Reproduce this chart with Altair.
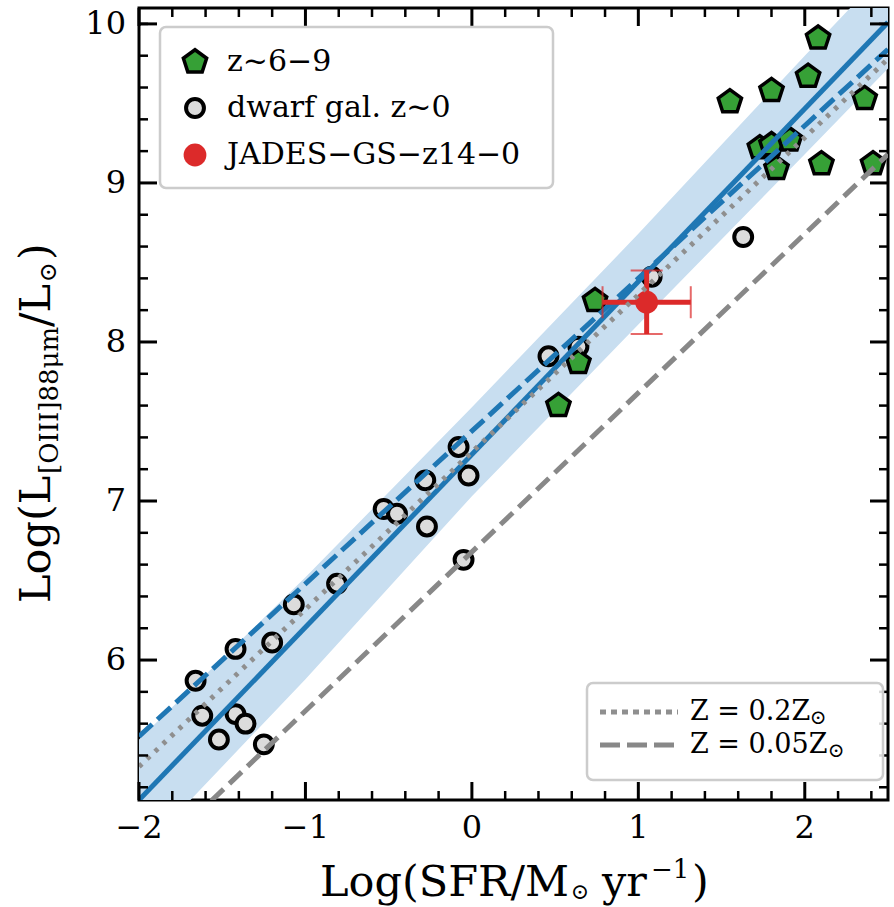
import altair as alt
import pandas as pd

# ---------------- data ----------------
z69_x = [2.08, 2.02, 1.80, 1.55, 2.36, 1.73, 1.80, 1.91, 1.83, 2.10, 2.41, 0.74, 0.64, 0.52]
z69_y = [9.91, 9.67, 9.58, 9.51, 9.53, 9.22, 9.24, 9.27, 9.09, 9.12, 9.12, 8.26, 7.87, 7.60]

dwarf_x = [-1.66, -1.62, -1.52, -1.42, -1.42, -1.36, -1.25, -1.20, -1.07, -0.81,
           -0.53, -0.45, -0.28, -0.27, -0.08, -0.02, -0.05, 0.46, 0.64, 1.08, 1.63]
dwarf_y = [5.87, 5.65, 5.50, 6.07, 5.66, 5.60, 5.47, 6.11, 6.35, 6.48,
           6.95, 6.92, 7.13, 6.84, 7.34, 7.16, 6.63, 7.91, 7.97, 8.41, 8.66]

jades_x = [1.05]
jades_y = [8.25]
jades_x_lo = [0.785]
jades_x_hi = [1.315]
jades_y_lo = [8.05]
jades_y_hi = [8.45]

line_x = [-2.0, 2.5]
fit_y = [5.12, 10.01]        # solid blue relation
obs_y = [5.52, 9.84]         # dashed blue relation
z02_y = [5.33, 9.78]         # Z = 0.2 Zsun (dotted gray)
z005_y = [4.68, 9.18]        # Z = 0.05 Zsun (dashed gray)

band_x = [-2.0, -1.0, 0.0, 1.0, 2.0, 2.5]
band_lo = [4.78, 5.88, 7.03, 8.11, 9.18, 9.72]
band_hi = [5.50, 6.52, 7.59, 8.68, 9.80, 10.35]

x_major = [-2, -1, 0, 1, 2]
x_labels = ["\u22122", "\u22121", "0", "1", "2"]
x_minor = [-1.8, -1.6, -1.4, -1.2, -0.8, -0.6, -0.4, -0.2, 0.2, 0.4, 0.6, 0.8,
           1.2, 1.4, 1.6, 1.8, 2.2, 2.4]
y_major = [6, 7, 8, 9, 10]
y_labels = ["6", "7", "8", "9", "10"]
y_minor = [5.2, 5.4, 5.6, 5.8, 6.2, 6.4, 6.6, 6.8, 7.2, 7.4, 7.6, 7.8, 8.2, 8.4,
           8.6, 8.8, 9.2, 9.4, 9.6, 9.8, 10.0]

# ---------------- styling ----------------
W, H = 749, 792
FONT = "DejaVu Serif"
GREEN = "#36a036"
RED = "#dc2a2a"
BLUE = "#1f77b4"
BAND = "#c8def0"
GRAY = "#888888"
PENTAGON = "M0,-1L0.951,-0.309L0.588,0.809L-0.588,0.809L-0.951,-0.309Z"

xs = alt.Scale(domain=[-2, 2.5], nice=False, zero=False)
ys = alt.Scale(domain=[5.12, 10.1], nice=False, zero=False)


def X(f):
    return alt.X(f, type="quantitative", scale=xs, axis=None)


def Y(f):
    return alt.Y(f, type="quantitative", scale=ys, axis=None)


df_band = pd.DataFrame({"x": band_x, "lo": band_lo, "hi": band_hi})
band = alt.Chart(df_band).mark_area(color=BAND, opacity=1, clip=True).encode(
    x=X("x"), y=Y("lo"), y2="hi:Q")

df_dwarf = pd.DataFrame({"x": dwarf_x, "y": dwarf_y})
dwarf = alt.Chart(df_dwarf).mark_point(
    shape="circle", filled=True, fill="#dcdcdc", stroke="black", strokeWidth=4,
    size=320, opacity=1, clip=True
).encode(x=X("x"), y=Y("y"))

df_z = pd.DataFrame({"x": z69_x, "y": z69_y})
green = alt.Chart(df_z).mark_point(
    shape=PENTAGON, filled=True, fill=GREEN, stroke="black", strokeWidth=3.5,
    size=600, opacity=1, clip=True
).encode(x=X("x"), y=Y("y"))


def rel_line(yvals, color, dash, width):
    df = pd.DataFrame({"x": line_x, "y": yvals})
    kw = dict(color=color, strokeWidth=width, clip=True)
    if dash:
        kw["strokeDash"] = dash
    return alt.Chart(df).mark_line(**kw).encode(x=X("x"), y=Y("y"))


fit_line = rel_line(fit_y, BLUE, None, 5)
obs_line = rel_line(obs_y, BLUE, [18, 7], 5)
z02_line = rel_line(z02_y, "#8f8f8f", [4, 7], 5)
z005_line = rel_line(z005_y, GRAY, [17, 8], 5)

df_j = pd.DataFrame({"x": jades_x, "y": jades_y, "xlo": jades_x_lo, "xhi": jades_x_hi,
                     "ylo": jades_y_lo, "yhi": jades_y_hi})
jbase = alt.Chart(df_j)
j_hbar = jbase.mark_rule(color=RED, strokeWidth=5).encode(x=X("xlo"), x2="xhi:Q", y=Y("y"))
j_vbar = jbase.mark_rule(color=RED, strokeWidth=5).encode(y=Y("ylo"), y2="yhi:Q", x=X("x"))
j_cap_l = jbase.mark_tick(color=RED, orient="vertical", size=32, thickness=2).encode(x=X("xlo"), y=Y("y"))
j_cap_r = jbase.mark_tick(color=RED, orient="vertical", size=32, thickness=2).encode(x=X("xhi"), y=Y("y"))
j_cap_b = jbase.mark_tick(color=RED, orient="horizontal", size=32, thickness=2).encode(x=X("x"), y=Y("ylo"))
j_cap_t = jbase.mark_tick(color=RED, orient="horizontal", size=32, thickness=2).encode(x=X("x"), y=Y("yhi"))
j_pt = jbase.mark_point(shape="circle", filled=True, color=RED, size=520, opacity=1).encode(x=X("x"), y=Y("y"))

# ---------------- inward ticks on all four sides + tick labels ----------------
tick_layers = []
for vals, length, width in [(x_major, 18, 3), (x_minor, 9, 2.5)]:
    d = alt.Chart(pd.DataFrame({"v": vals}))
    tick_layers.append(d.mark_rule(color="black", strokeWidth=width).encode(
        x=X("v"), y=alt.value(H), y2=alt.value(H - length)))
    tick_layers.append(d.mark_rule(color="black", strokeWidth=width).encode(
        x=X("v"), y=alt.value(0), y2=alt.value(length)))
for vals, length, width in [(y_major, 18, 3), (y_minor, 9, 2.5)]:
    d = alt.Chart(pd.DataFrame({"v": vals}))
    tick_layers.append(d.mark_rule(color="black", strokeWidth=width).encode(
        y=Y("v"), x=alt.value(0), x2=alt.value(length)))
    tick_layers.append(d.mark_rule(color="black", strokeWidth=width).encode(
        y=Y("v"), x=alt.value(W), x2=alt.value(W - length)))

xlab = alt.Chart(pd.DataFrame({"v": x_major, "t": x_labels})).mark_text(
    font=FONT, fontSize=32, color="black", align="center", baseline="top"
).encode(x=X("v"), y=alt.value(H + 13), text="t:N")
ylab = alt.Chart(pd.DataFrame({"v": y_major, "t": y_labels})).mark_text(
    font=FONT, fontSize=32, color="black", align="right", baseline="middle"
).encode(y=Y("v"), x=alt.value(-13), text="t:N")

ONE = alt.Data(values=[{"a": 0}])


def txt(s, x, y, size, angle=0, align="left", baseline="alphabetic"):
    return alt.Chart(ONE).mark_text(
        text=s, font=FONT, fontSize=size, color="black", angle=angle,
        align=align, baseline=baseline
    ).encode(x=alt.value(x), y=alt.value(y))


# ---------------- legends ----------------
leg1_box = alt.Chart(ONE).mark_rect(
    fill="white", fillOpacity=0.85, stroke="#cccccc", strokeWidth=2.5, cornerRadius=6
).encode(x=alt.value(21), x2=alt.value(414), y=alt.value(19), y2=alt.value(180))
leg1_g = alt.Chart(ONE).mark_point(
    shape=PENTAGON, filled=True, fill=GREEN, stroke="black", strokeWidth=3.5, size=600, opacity=1
).encode(x=alt.value(56), y=alt.value(54))
leg1_d = alt.Chart(ONE).mark_point(
    shape="circle", filled=True, fill="#dcdcdc", stroke="black", strokeWidth=4, size=320, opacity=1
).encode(x=alt.value(56), y=alt.value(100))
leg1_r = alt.Chart(ONE).mark_point(
    shape="circle", filled=True, color=RED, size=520, opacity=1
).encode(x=alt.value(56), y=alt.value(147))
leg1_texts = [
    txt("z~6\u22129", 88, 54, 30, baseline="middle"),
    txt("dwarf gal. z~0", 88, 100, 30, baseline="middle"),
    txt("JADES\u2212GS\u2212z14\u22120", 88, 147, 30, baseline="middle"),
]

leg2_box = alt.Chart(ONE).mark_rect(
    fill="white", fillOpacity=0.85, stroke="#cccccc", strokeWidth=2.5, cornerRadius=6
).encode(x=alt.value(448), x2=alt.value(744), y=alt.value(675), y2=alt.value(772))
leg2_dot = alt.Chart(ONE).mark_rule(color="#8f8f8f", strokeWidth=5, strokeDash=[6, 5]).encode(
    x=alt.value(461), x2=alt.value(539), y=alt.value(704))
leg2_dash = alt.Chart(ONE).mark_rule(color=GRAY, strokeWidth=5, strokeDash=[20, 7]).encode(
    x=alt.value(461), x2=alt.value(539), y=alt.value(737))
leg2_texts = [
    txt("Z = 0.2Z", 551, 704, 27, baseline="middle"),
    txt("\u2299", 679, 710, 20, align="center", baseline="middle"),
    txt("Z = 0.05Z", 551, 737, 27, baseline="middle"),
    txt("\u2299", 697, 743, 20, align="center", baseline="middle"),
]

# ---------------- axis titles built from pieces (sub/superscripts) ----------------
x_title = [
    txt("Log(SFR/M", 181, 888, 43),
    txt("\u2299", 441, 884, 22, align="center", baseline="middle"),
    txt("yr", 463, 888, 43),
    txt("\u22121", 512, 870, 26),
    txt(")", 553, 888, 43),
]
y_title = [
    txt("Log(L", -89, 595, 43, angle=270),
    txt("[OIII]88\u03bcm", -81, 466, 26, angle=270),
    txt("/L", -89, 319, 43, angle=270),
    txt("\u2299", -90, 264, 24, angle=270, align="center", baseline="middle"),
    txt(")", -89, 252, 43, angle=270),
]

layers = [band, dwarf, green, fit_line, obs_line, j_hbar, j_vbar, j_cap_l, j_cap_r,
          j_cap_b, j_cap_t, j_pt, z02_line, z005_line] + tick_layers + [xlab, ylab] + \
         [leg1_box, leg1_g, leg1_d, leg1_r] + leg1_texts + \
         [leg2_box, leg2_dot, leg2_dash] + leg2_texts + x_title + y_title

chart = alt.layer(*layers).properties(
    width=W, height=H,
    padding={"left": 139, "top": 8, "right": 6, "bottom": 107},
    autosize="none",
    background="white",
).configure_view(stroke="black", strokeWidth=3)

chart.save("out.html", embed_options={"renderer": "svg", "actions": False})
